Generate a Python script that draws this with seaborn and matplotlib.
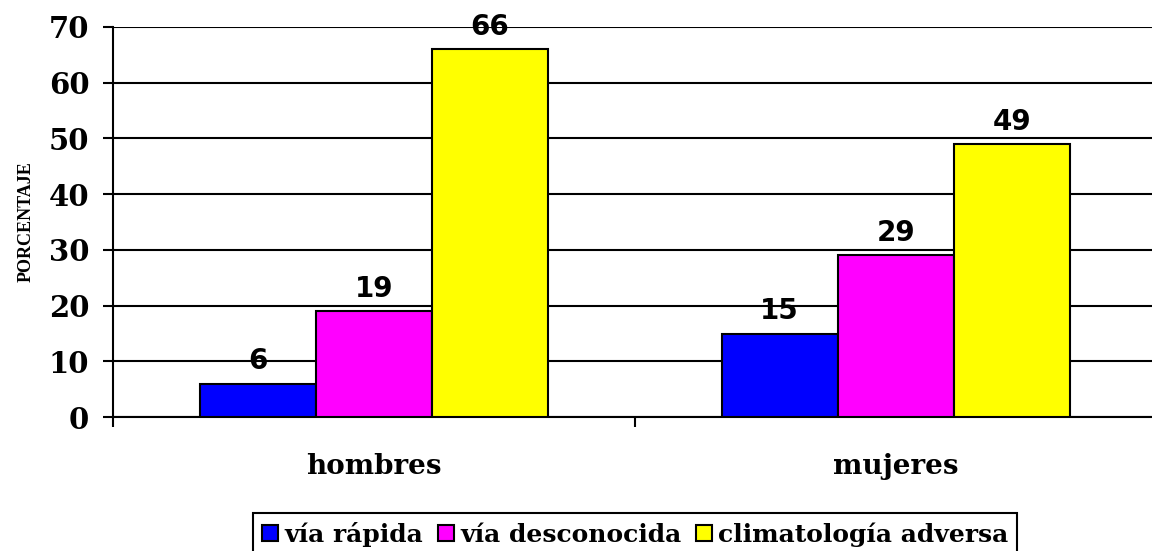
import pandas as pd
import matplotlib
matplotlib.use("Agg")
import matplotlib.pyplot as plt
import seaborn as sns

# Data
categories = ["hombres", "mujeres"]
series = ["vía rápida", "vía desconocida", "climatología adversa"]
via_rapida = [6, 15]
via_desconocida = [19, 29]
climatologia = [66, 49]
colors = ["#0000FF", "#FF00FF", "#FFFF00"]

df = pd.DataFrame({
    "Sexo": categories * 3,
    "Motivo": [s for s in series for _ in categories],
    "Valor": via_rapida + via_desconocida + climatologia,
})

sns.set_style("white")
plt.rcParams["font.family"] = ["DejaVu Serif"]
plt.rcParams["text.color"] = "black"
plt.rcParams["xtick.color"] = "black"
plt.rcParams["ytick.color"] = "black"
plt.rcParams["axes.labelcolor"] = "black"

fig = plt.figure(figsize=(11.52, 5.51), dpi=100)
ax = fig.add_axes([0.098, 0.243, 0.906, 0.708])

sns.barplot(data=df, x="Sexo", y="Valor", hue="Motivo", hue_order=series,
            palette=colors, width=0.667, gap=0, edgecolor="black",
            linewidth=1.5, saturation=1, ax=ax, zorder=3)

# value labels on top of the bars
for cont in ax.containers:
    ax.bar_label(cont, padding=6, fontsize=20, fontweight="bold",
                 family="DejaVu Sans", color="black")

ax.set_ylim(0, 70)
ax.set_xlim(-0.5, 1.5)
ax.set_yticks(range(0, 71, 10))
ax.yaxis.grid(True, color="black", linewidth=1.5, zorder=0)
ax.xaxis.grid(False)

for side in ["top", "right"]:
    ax.spines[side].set_visible(False)
for side in ["left", "bottom"]:
    ax.spines[side].set_color("black")
    ax.spines[side].set_linewidth(1.5)

ax.tick_params(axis="y", left=True, length=7, width=1.5, pad=10,
               labelsize=21)
ax.tick_params(axis="x", which="major", length=0, pad=26, labelsize=20)
ax.set_xticks([-0.5, 0.5, 1.5], minor=True)
ax.tick_params(axis="x", which="minor", bottom=True, length=7, width=1.5)
for lbl in ax.get_xticklabels() + ax.get_yticklabels():
    lbl.set_fontweight("bold")

ax.set_xlabel("")
ax.set_ylabel("PORCENTAJE", fontsize=13, fontweight="bold",
              family="Liberation Serif", labelpad=10)

leg = ax.legend(loc="upper left", bbox_to_anchor=(0.2196, 0.069),
                bbox_transform=fig.transFigure, ncol=3, frameon=True,
                fancybox=False, framealpha=1, handlelength=0.64,
                handleheight=0.64, handletextpad=0.25, columnspacing=0.6,
                borderpad=0.35, borderaxespad=0,
                prop={"family": "DejaVu Serif", "weight": "bold", "size": 18})
leg.get_frame().set_edgecolor("black")
leg.get_frame().set_linewidth(1.5)
leg.set_title(None)

fig.savefig("out.png", dpi=100)
